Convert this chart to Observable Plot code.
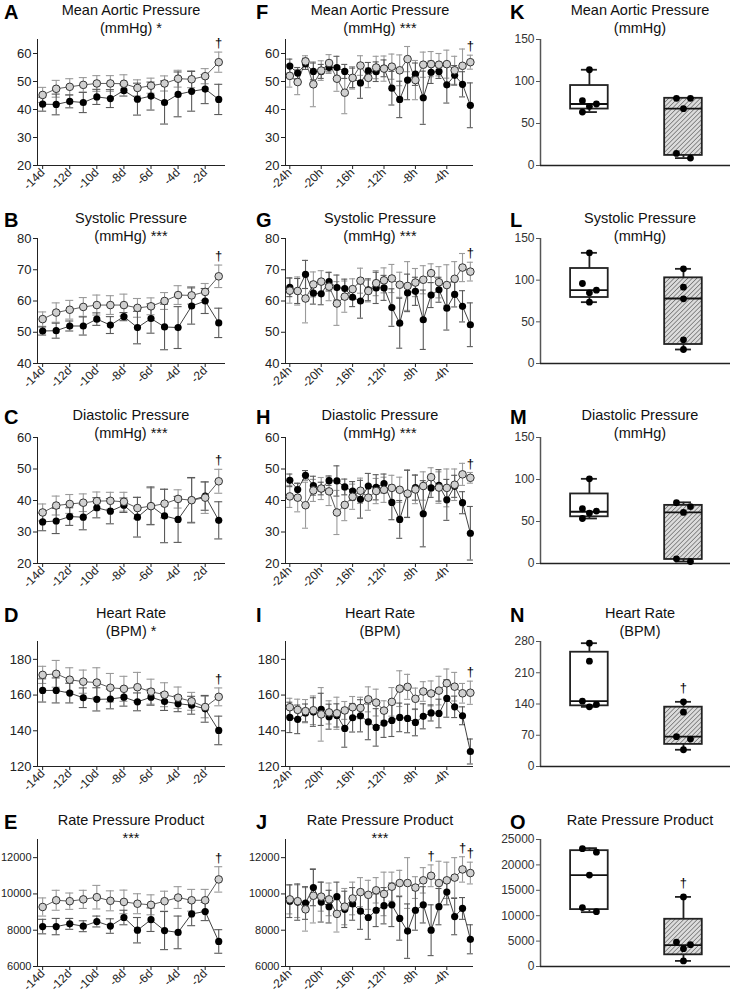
<!DOCTYPE html>
<html><head><meta charset="utf-8">
<script src="https://cdn.jsdelivr.net/npm/d3@7"></script>
<script src="https://cdn.jsdelivr.net/npm/@observablehq/plot@0.6"></script>
<style>
body{margin:0;background:#fff;font-family:"Liberation Sans",Arial,sans-serif;}
#root{position:relative;width:733px;height:993px;overflow:hidden;background:#fff;}
.letter{position:absolute;font-weight:bold;font-size:20px;line-height:20px;color:#000;}
.title{position:absolute;text-align:center;font-size:14.5px;line-height:18px;color:#111;width:240px;}
</style></head><body>
<svg width="0" height="0" style="position:absolute"><defs>
<pattern id="hatch" width="3.2" height="3.2" patternUnits="userSpaceOnUse" patternTransform="rotate(45)">
<rect width="3.2" height="3.2" fill="#dcdcdc"/><line x1="0" y1="0" x2="0" y2="3.2" stroke="#555" stroke-width="1.2"/></pattern>
</defs></svg>
<div id="root"></div>
<script>
// ---------- categories ----------
const days = [-14,-13,-12,-11,-10,-9,-8,-7,-6,-5,-4,-3,-2,-1];
const hours = [-24,-23,-22,-21,-20,-19,-18,-17,-16,-15,-14,-13,-12,-11,-10,-9,-8,-7,-6,-5,-4,-3,-2,-1];
const dayTicks = [-14,-12,-10,-8,-6,-4,-2];
const hourTicks = [-24,-20,-16,-12,-8,-4];

// ---------- A: Mean aortic pressure (days) ----------
const A_open    = [45.2,47.4,48.1,48.8,49.3,49.3,49.2,47.7,48.5,49.3,51.0,50.8,51.9,56.9];
const A_openErr = [2.7,3.0,2.9,2.6,2.8,2.8,3.2,2.9,2.7,2.7,3.0,3.0,2.7,3.6];
const A_fill    = [41.9,41.8,42.9,42.5,44.5,43.9,46.8,43.7,44.8,42.5,45.4,46.5,47.3,43.6];
const A_fillErr = [2.5,3.7,2.3,3.6,2.7,3.2,2.0,5.7,5.0,7.7,8.0,7.1,5.2,5.4];
// ---------- B: Systolic ----------
const B_open    = [54.2,56.3,57.2,58.1,58.7,58.7,58.7,57.8,58.3,60.0,61.9,61.8,62.9,67.9];
const B_openErr = [2.3,3.1,3.0,3.0,3.2,3.0,3.5,3.0,2.7,2.7,3.0,2.8,2.7,3.6];
const B_fill    = [50.4,50.5,52.0,52.0,54.2,52.3,55.0,51.5,54.4,51.7,51.5,58.4,60.0,53.0];
const B_fillErr = [1.3,2.4,1.6,2.9,2.0,2.7,1.3,5.2,4.7,7.3,6.7,5.8,4.0,4.7];
// ---------- C: Diastolic ----------
const C_open    = [36.2,38.4,38.9,39.3,39.8,39.9,39.6,37.6,38.2,39.0,40.5,40.1,40.9,46.1];
const C_openErr = [2.7,3.0,3.0,2.8,2.9,2.7,3.0,3.4,5.8,4.5,2.9,7.0,5.0,3.8];
const C_fill    = [33.2,33.5,34.9,34.7,37.7,36.6,38.5,34.7,38.3,35.1,34.0,40.1,41.4,33.7];
const C_fillErr = [2.8,4.0,2.8,4.0,3.2,4.0,2.3,6.3,6.0,8.5,7.3,7.2,4.5,5.9];
// ---------- D: Heart rate ----------
const D_open    = [171.3,171.9,168.6,167.5,167.0,164.1,163.5,164.4,161.9,160.2,158.5,156.5,153.3,159.0];
const D_openErr = [4.8,7.5,6.7,6.5,8.3,8.0,7.0,8.3,7.0,6.7,6.0,5.0,6.0,5.0];
const D_fill    = [162.6,162.6,161.1,158.5,157.6,157.8,158.8,156.2,158.8,156.4,155.2,154.3,152.3,140.2];
const D_fillErr = [6.5,7.0,5.5,5.5,6.5,5.5,5.0,5.0,4.5,5.0,4.5,5.0,7.5,8.0];
// ---------- E: Rate pressure product ----------
const E_open    = [9280,9650,9600,9700,9820,9620,9560,9460,9400,9600,9800,9650,9650,10800];
const E_openErr = [500,550,450,500,650,550,650,550,550,550,600,600,600,700];
const E_fill    = [8200,8200,8350,8220,8480,8230,8700,8000,8580,7980,7880,8900,9030,7380];
const E_fillErr = [400,450,300,300,300,400,400,700,650,1050,900,650,500,650];

// ---------- F: Mean aortic pressure (hours) ----------
const F_open    = [52.0,49.8,57.2,49.0,53.9,56.6,51.0,46.0,51.3,55.7,51.3,55.0,54.6,55.3,54.0,58.0,50.5,56.0,56.2,56.0,56.2,54.0,55.6,56.9];
const F_openErr = [4,4.5,2,8,3.5,3,4.5,7.5,4,3.5,3.5,4,4.5,4.5,5.5,4.5,7,4.5,4.5,4,5,5,6,2.5];
const F_fill    = [55.5,53.0,56.3,53.6,53.6,55.0,55.0,53.6,51.3,49.5,53.8,53.5,54.7,47.6,43.6,50.5,52.6,44.2,53.3,53.6,48.8,52.2,49.0,41.5];
const F_fillErr = [2.5,2,2,3,2.5,2,4,2.5,3.5,5.5,3,3.5,3,6,6.5,7,4,9.5,4,2.5,6.5,3.5,4.5,8];
// ---------- G: Systolic ----------
const G_open    = [63.3,63.2,60.8,65.3,66.2,64.6,59.2,61.4,63.8,66.5,63.2,65.7,66.6,67.2,65.2,64.8,65.9,66.8,68.9,66.0,65.1,67.1,70.7,69.4];
const G_openErr = [4,4.5,7.8,4,3.5,4.5,7,5,3.3,4,3.5,4,4,4.5,4,7.8,4.5,4.5,3,5,6.5,5.5,4.5,3];
const G_fill    = [64.4,63.2,68.5,62.5,62.3,66.2,64.3,64.0,61.2,60.0,63.6,64.2,64.2,57.9,52.9,62.6,63.1,54.0,61.9,63.6,57.7,62.1,58.3,52.4];
const G_fillErr = [3,4,4.5,3.5,3.5,3,4,3,3,5.5,3.5,5,4,6,8,6,4.5,9.5,4,4,7,4,5,7];
// ---------- H: Diastolic ----------
const H_open    = [41.3,40.9,38.5,43.2,43.8,42.9,36.2,38.6,41.2,43.1,40.9,43.0,43.4,44.0,43.4,42.2,43.5,44.6,47.4,44.1,44.0,45.0,48.3,47.2];
const H_openErr = [3.5,4.5,7.3,3.5,3.5,4.5,7,5,4,4,4,4,4,4,4,7.5,4.5,4.5,3,5,6,5,3.5,1.7];
const H_fill    = [46.4,43.5,48.0,44.7,43.8,46.3,46.2,44.3,43.0,40.4,44.6,44.2,45.4,39.4,34.0,42.1,44.1,35.8,44.0,44.8,40.2,44.5,39.3,29.6];
const H_fillErr = [2,2,1.5,3,2,1.5,4.8,2.5,3,6,4,4,3,5.5,6,7.5,4,10.5,3,5,6.5,3.5,3.5,8.5];
// ---------- I: Heart rate ----------
const I_open    = [153.2,151.7,151.0,151.5,149.2,150.3,149.8,151.4,153.2,152.8,157.6,155.8,151.3,156.2,163.6,164.6,157.9,162.0,160.9,162.5,166.6,164.7,161.0,161.3];
const I_openErr = [5,6,6.5,8,15,6.5,9,5,6,6,7,7.5,5.5,8,10,7,6,5.5,7,8,8,8,5.5,6.5];
const I_fill    = [147.5,146.4,150.0,150.5,152.0,147.9,148.6,141.3,147.3,148.4,145.0,141.9,144.3,145.8,147.5,146.9,144.7,148.1,150.0,149.7,158.1,153.4,148.4,128.4];
const I_fillErr = [8.5,8,5,8,9,7,6.5,10.5,8,9,10,10.5,8,9,8,8,7.5,7,4.5,8,10.5,6,5,7];
// ---------- J: Rate pressure product ----------
const J_open    = [9700,9600,9150,9900,9850,9700,8900,9300,9750,10100,9950,10200,10000,10400,10600,10600,10350,10750,11000,10600,10750,10900,11350,11150];
const J_openErr = [800,900,1200,1500,800,900,1000,1000,900,800,800,700,1200,800,700,1400,600,700,600,1200,1000,1100,700,600];
const J_fill    = [9600,9550,9500,10350,9550,9300,9850,9150,9450,9050,8700,9100,9350,9400,8650,7950,9100,9400,8000,9300,10100,8750,9200,7500];
const J_fillErr = [900,1000,900,1000,1100,900,800,1000,900,1000,1200,900,1000,1200,1200,1500,1100,1000,1400,1000,700,1000,600,800];

// ---------- Box plots (K-O): [min, q1, median, q3, max] and points ----------
const K_ctrlBox = [63.6,67.2,73.2,95.2,114];   const K_ctrlPts = [114,77.2,73.2,70.4,63.6];
const K_hfBox   = [8.8,12,67.6,80,80];          const K_hfPts   = [80,80,67.6,14.4,8.8];
const L_ctrlBox = [73.6,79.2,88,114,132.8];    const L_ctrlPts = [132.8,96,88,84.8,73.6];
const L_hfBox   = [16.8,22.8,78,102.8,113.6];  const L_hfPts   = [113.6,91.6,77.6,28.4,16.8];
const M_ctrlBox = [53.6,55.6,61.6,82.8,100.8]; const M_ctrlPts = [100.8,65.2,62.4,60,53.6];
const M_hfBox   = [2.4,4.8,60.8,69.2,72.8];    const M_hfPts   = [72.4,67.6,60.8,5.6,2.4];
const N_ctrlBox = [133.6,135.9,146.4,256,276.2]; const N_ctrlPts = [276.2,236,146.4,139,133.6];
const N_hfBox   = [37.5,49.5,66.8,132.9,144.9];  const N_hfPts   = [144.9,121.6,66.8,61.5,37.5];
const O_ctrlBox = [10700,11200,18000,22800,23300]; const O_ctrlPts = [23200,22500,18000,11600,10800];
const O_hfBox   = [1100,2300,4200,9300,13700];     const O_hfPts   = [13700,4800,4300,3500,1100];

// ---------- layout ----------
const root = document.getElementById("root");
const COLS = [
  {svgLeft:0,   ml:37, fw:188, mr:14, letterX:4,   titleX:131},
  {svgLeft:245, ml:40, fw:188, mr:14, letterX:256, titleX:380},
  {svgLeft:490, ml:50, fw:190, mr:3,  letterX:510, titleX:640}
];
const ROWS = [
  {top:39,  bot:165, t:1},
  {top:238, bot:363, t:209},
  {top:437, bot:563, t:406},
  {top:641, bot:766, t:604},
  {top:839, bot:966, t:811}
];
const FONT = '"Liberation Sans", Arial, sans-serif';

function place(el, left, top){
  el.style.position = "absolute"; el.style.left = left + "px"; el.style.top = top + "px";
  root.appendChild(el);
}
function addText(col, row, letter, l1, l2){
  const C = COLS[col], R = ROWS[row];
  const t = document.createElement("div"); t.className = "title";
  t.innerHTML = l1 + (l2 ? "<br>" + l2 : "");
  place(t, C.titleX - 120, R.t);
  const L = document.createElement("div"); L.className = "letter"; L.textContent = letter;
  place(L, C.letterX, R.t + 1);
}
function mk(xs, m, e){ return xs.map((x,i) => ({x, m:m[i], lo:m[i]-e[i], hi:m[i]+e[i]})); }
function errMarks(D, color, cap){
  return [
    Plot.ruleX(D, {x:"x", y1:"lo", y2:"hi", stroke:color, strokeWidth:1.1}),
    Plot.ruleY(D, {y:"hi", x1:"x", x2:"x", insetLeft:-cap, insetRight:-cap, stroke:color, strokeWidth:1.1}),
    Plot.ruleY(D, {y:"lo", x1:"x", x2:"x", insetLeft:-cap, insetRight:-cap, stroke:color, strokeWidth:1.1})
  ];
}

function linePanel(p){
  const C = COLS[p.col], R = ROWS[p.row];
  const mt = 16, mb = 40, fh = R.bot - R.top;
  const openD = mk(p.x, p.open, p.openErr), fillD = mk(p.x, p.fill, p.fillErr);
  const dag = (p.daggers || []).map(x => { const i = p.x.indexOf(x); return {x, y: Math.max(openD[i].hi, fillD[i].hi)}; });
  const cap = p.col === 0 ? 4 : 3;
  const svg = Plot.plot({
    width: C.ml + C.fw + C.mr, height: mt + fh + mb,
    marginLeft: C.ml, marginRight: C.mr, marginTop: mt, marginBottom: mb,
    style: {background:"none", overflow:"visible", fontFamily: FONT, fontSize:"12px", color:"#222"},
    x: {domain: p.xDomain, axis: null}, y: {domain: p.yDomain, axis: null},
    marks: [
      Plot.ruleY([p.yDomain[0]], {stroke:"#222", strokeWidth:1}),
      Plot.ruleX([p.xDomain[0]], {stroke:"#222", strokeWidth:1}),
      Plot.axisY({ticks: p.yTicks, tickSize:4, tickPadding:2, tickFormat: d3.format("d"), label:null, fontSize: p.yFont || 13}),
      Plot.axisX({ticks: p.xTicks, tickSize:4, tickPadding:1, tickRotate:-45, tickFormat: d => d + p.unit, label:null, fontSize:12}),
      ...errMarks(openD, "#9a9a9a", cap),
      ...errMarks(fillD, "#5a5a5a", cap),
      Plot.line(fillD, {x:"x", y:"m", stroke:"#111", strokeWidth:0.8}),
      Plot.line(openD, {x:"x", y:"m", stroke:"#333", strokeWidth:0.8}),
      Plot.dot(fillD, {x:"x", y:"m", r:3.6, fill:"#000"}),
      Plot.dot(openD, {x:"x", y:"m", r:3.8, fill:"#d0d0d0", stroke:"#333", strokeWidth:1}),
      Plot.text(dag, {x:"x", y:"y", text: () => "\u2020", dy:-9, fontSize:13, fill:"#000"})
    ]
  });
  place(svg, C.svgLeft, R.top - mt);
  addText(p.col, p.row, p.letter, p.t1, p.t2);
}

function slots(vals, span){
  // deterministic side-by-side spreading of points with close values
  const order = vals.map((v,i)=>({v,i})).sort((a,b)=>b.v-a.v);
  const out = new Array(vals.length).fill(0);
  let cluster = [];
  const flush = () => {
    if (cluster.length > 1) { const pat = [-1, 1, 0, -1, 1]; cluster.forEach((o,k) => out[o.i] = pat[k]); }
    cluster = [];
  };
  for (const o of order) {
    if (cluster.length && Math.abs(cluster[cluster.length-1].v - o.v) > span*0.06) flush();
    cluster.push(o);
  }
  flush();
  return out;
}

function boxPanel(p){
  const C = COLS[2], R = ROWS[p.row];
  const mt = 16, mb = 40, fh = R.bot - R.top;
  const span = p.yDomain[1] - p.yDomain[0];
  const boxes = [p.ctrlBox, p.hfBox].map((b,i) => ({g:i, min:b[0], q1:b[1], med:b[2], q3:b[3], max:b[4]}));
  const pts = [];
  [p.ctrlPts, p.hfPts].forEach((arr,g) => { const s = slots(arr, span); arr.forEach((v,i) => pts.push({g, v, s:s[i]})); });
  const dag = p.dagger ? [{g:1, y: boxes[1].max}] : [];
  const BW = 0.2;
  const svg = Plot.plot({
    width: C.ml + C.fw + C.mr, height: mt + fh + mb,
    marginLeft: C.ml, marginRight: C.mr, marginTop: mt, marginBottom: mb,
    style: {background:"none", overflow:"visible", fontFamily: FONT, fontSize:"12px", color:"#444"},
    x: {domain: [-0.52, 1.5], axis: null}, y: {domain: p.yDomain, axis: null},
    marks: [
      Plot.ruleX([-0.52], {stroke:"#555", strokeWidth:1.5}),
      Plot.ruleY([p.yDomain[0]], {stroke:"#222", strokeWidth:1.5}),
      Plot.axisY({ticks: p.yTicks, tickSize:4, tickPadding:2, tickFormat: d3.format("d"), label:null, stroke:"#555", fill:"#333"}),
      Plot.ruleX(boxes, {x:"g", y1:"min", y2:"max", stroke:"#222", strokeWidth:1.8}),
      Plot.ruleY(boxes, {y:"max", x1:"g", x2:"g", insetLeft:-8, insetRight:-8, stroke:"#222", strokeWidth:1.8}),
      Plot.ruleY(boxes, {y:"min", x1:"g", x2:"g", insetLeft:-8, insetRight:-8, stroke:"#222", strokeWidth:1.8}),
      Plot.rect(boxes, {x1: d => d.g - BW, x2: d => d.g + BW, y1:"q1", y2:"q3",
                        fill: d => d.g ? "url(#hatch)" : "#fff", stroke:"#222", strokeWidth:1.8}),
      Plot.ruleY(boxes, {y:"med", x1: d => d.g - BW, x2: d => d.g + BW, stroke:"#111", strokeWidth:1.8}),
      Plot.dot(pts.filter(d => d.s === 0),  {x:"g", y:"v", r:3.4, fill:"#000"}),
      Plot.dot(pts.filter(d => d.s === -1), {x:"g", y:"v", r:3.4, fill:"#000", dx:-7}),
      Plot.dot(pts.filter(d => d.s === 1),  {x:"g", y:"v", r:3.4, fill:"#000", dx:7}),
      Plot.text(dag, {x:"g", y:"y", text: () => "\u2020", dy:-14, fontSize:13, fill:"#000"})
    ]
  });
  place(svg, C.svgLeft, R.top - mt);
  addText(2, p.row, p.letter, p.t1, p.t2);
}

// ---------- build ----------
const dayCfg = {col:0, x:days, xTicks:dayTicks, unit:"d", xDomain:[-14.38,-0.5]};
const hourCfg = {col:1, x:hours, xTicks:hourTicks, unit:"h", xDomain:[-24.55,-0.6]};

linePanel({...dayCfg, row:0, letter:"A", t1:"Mean Aortic Pressure", t2:"(mmHg) *", yDomain:[20,65], yTicks:[20,30,40,50,60], open:A_open, openErr:A_openErr, fill:A_fill, fillErr:A_fillErr, daggers:[-1]});
linePanel({...dayCfg, row:1, letter:"B", t1:"Systolic Pressure", t2:"(mmHg) ***", yDomain:[40,80], yTicks:[40,50,60,70,80], open:B_open, openErr:B_openErr, fill:B_fill, fillErr:B_fillErr, daggers:[-1]});
linePanel({...dayCfg, row:2, letter:"C", t1:"Diastolic Pressure", t2:"(mmHg) ***", yDomain:[20,60], yTicks:[20,30,40,50,60], open:C_open, openErr:C_openErr, fill:C_fill, fillErr:C_fillErr, daggers:[-1]});
linePanel({...dayCfg, row:3, letter:"D", t1:"Heart Rate", t2:"(BPM) *", yDomain:[120,190], yTicks:[120,140,160,180], open:D_open, openErr:D_openErr, fill:D_fill, fillErr:D_fillErr, daggers:[-1]});
linePanel({...dayCfg, row:4, letter:"E", t1:"Rate Pressure Product", t2:"***", yDomain:[6000,13000], yTicks:[6000,8000,10000,12000], yFont:11, open:E_open, openErr:E_openErr, fill:E_fill, fillErr:E_fillErr, daggers:[-1]});

linePanel({...hourCfg, row:0, letter:"F", t1:"Mean Aortic Pressure", t2:"(mmHg) ***", yDomain:[20,65], yTicks:[20,30,40,50,60], open:F_open, openErr:F_openErr, fill:F_fill, fillErr:F_fillErr, daggers:[-1]});
linePanel({...hourCfg, row:1, letter:"G", t1:"Systolic Pressure", t2:"(mmHg) ***", yDomain:[40,80], yTicks:[40,50,60,70,80], open:G_open, openErr:G_openErr, fill:G_fill, fillErr:G_fillErr, daggers:[-1]});
linePanel({...hourCfg, row:2, letter:"H", t1:"Diastolic Pressure", t2:"(mmHg) ***", yDomain:[20,60], yTicks:[20,30,40,50,60], open:H_open, openErr:H_openErr, fill:H_fill, fillErr:H_fillErr, daggers:[-1]});
linePanel({...hourCfg, row:3, letter:"I", t1:"Heart Rate", t2:"(BPM)", yDomain:[120,190], yTicks:[120,140,160,180], open:I_open, openErr:I_openErr, fill:I_fill, fillErr:I_fillErr, daggers:[-1]});
linePanel({...hourCfg, row:4, letter:"J", t1:"Rate Pressure Product", t2:"***", yDomain:[6000,13000], yTicks:[6000,8000,10000,12000], yFont:11, open:J_open, openErr:J_openErr, fill:J_fill, fillErr:J_fillErr, daggers:[-6,-2,-1]});

boxPanel({row:0, letter:"K", t1:"Mean Aortic Pressure", t2:"(mmHg)", yDomain:[0,150], yTicks:[0,50,100,150], ctrlBox:K_ctrlBox, ctrlPts:K_ctrlPts, hfBox:K_hfBox, hfPts:K_hfPts});
boxPanel({row:1, letter:"L", t1:"Systolic Pressure", t2:"(mmHg)", yDomain:[0,150], yTicks:[0,50,100,150], ctrlBox:L_ctrlBox, ctrlPts:L_ctrlPts, hfBox:L_hfBox, hfPts:L_hfPts});
boxPanel({row:2, letter:"M", t1:"Diastolic Pressure", t2:"(mmHg)", yDomain:[0,150], yTicks:[0,50,100,150], ctrlBox:M_ctrlBox, ctrlPts:M_ctrlPts, hfBox:M_hfBox, hfPts:M_hfPts});
boxPanel({row:3, letter:"N", t1:"Heart Rate", t2:"(BPM)", yDomain:[0,280], yTicks:[0,70,140,210,280], ctrlBox:N_ctrlBox, ctrlPts:N_ctrlPts, hfBox:N_hfBox, hfPts:N_hfPts, dagger:true});
boxPanel({row:4, letter:"O", t1:"Rate Pressure Product", t2:"", yDomain:[0,25000], yTicks:[0,5000,10000,15000,20000,25000], ctrlBox:O_ctrlBox, ctrlPts:O_ctrlPts, hfBox:O_hfBox, hfPts:O_hfPts, dagger:true});
</script></body></html>
